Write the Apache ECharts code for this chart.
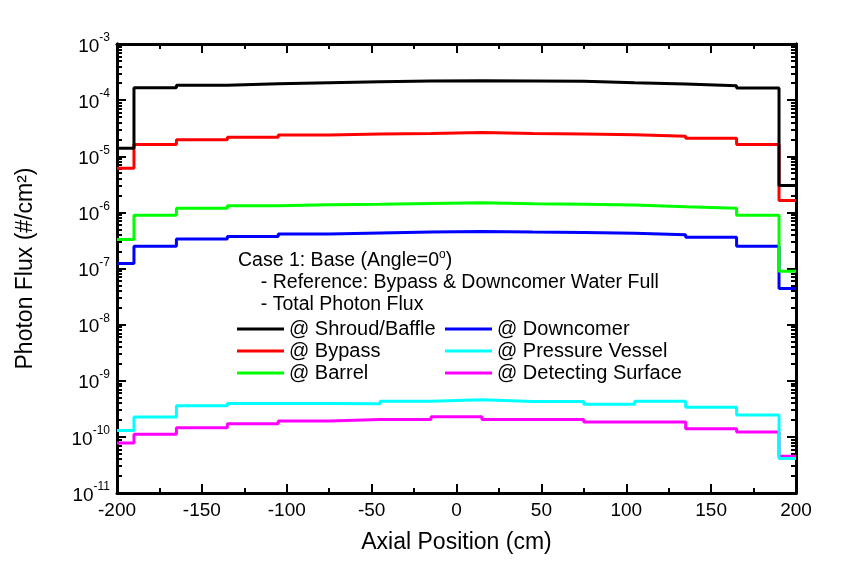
<!DOCTYPE html>
<html>
<head>
<meta charset="utf-8">
<script src="https://cdn.jsdelivr.net/npm/echarts@6/dist/echarts.min.js"></script>
<style>html,body{margin:0;padding:0;background:#fff}#chart{width:843px;height:574px}</style>
</head>
<body>
<div id="chart"></div>
<script>
const edges = [-200,-190,-165,-135,-105,-75,-45,-15,15,45,75,105,135,165,190,200];
const shroud = [1.39e-5,1.66e-4,1.85e-4,1.95e-4,2.04e-4,2.12e-4,2.2e-4,2.22e-4,2.2e-4,2.18e-4,2.04e-4,1.93e-4,1.8e-4,1.64e-4,3.0e-6];
const bypass = [6.1e-6,1.62e-5,1.97e-5,2.19e-5,2.38e-5,2.48e-5,2.55e-5,2.65e-5,2.55e-5,2.5e-5,2.42e-5,2.28e-5,2.1e-5,1.62e-5,1.63e-6];
const barrel = [3.3e-7,8.9e-7,1.19e-6,1.31e-6,1.37e-6,1.4e-6,1.44e-6,1.48e-6,1.43e-6,1.39e-6,1.35e-6,1.26e-6,1.18e-6,8.9e-7,8.9e-8];
const downcomer = [1.23e-7,2.48e-7,3.34e-7,3.73e-7,4.1e-7,4.27e-7,4.45e-7,4.57e-7,4.45e-7,4.4e-7,4.25e-7,4.0e-7,3.6e-7,2.48e-7,4.4e-8];
const vessel = [1.3e-10,2.25e-10,3.6e-10,3.95e-10,3.95e-10,3.9e-10,4.3e-10,4.6e-10,4.25e-10,4.25e-10,3.8e-10,4.3e-10,3.36e-10,2.45e-10,4.1e-11];
const surface = [7.8e-11,1.11e-10,1.46e-10,1.72e-10,1.91e-10,2.05e-10,2.05e-10,2.29e-10,2.03e-10,2.03e-10,1.84e-10,1.84e-10,1.4e-10,1.22e-10,4.5e-11];
const seriesNames = ['@ Shroud/Baffle','@ Bypass','@ Barrel','@ Downcomer','@ Pressure Vessel','@ Detecting Surface'];
const seriesColors = ['#000000','#ff0000','#00ff00','#0000ff','#00ffff','#ff00ff'];
const yExponents = [-11,-10,-9,-8,-7,-6,-5,-4,-3];
const xMin = -200, xMax = 200, xStep = 50;

const FONT = 'Liberation Sans, Arial, sans-serif';
const majorVals = yExponents.map(e => Math.pow(10, e));
const minorVals = [];
yExponents.slice(0, -1).forEach(e => { for (let k = 2; k <= 9; k++) minorVals.push(k * Math.pow(10, e)); });

function stepData(vals) {
  return edges.map((e, i) => [e, vals[Math.min(i, vals.length - 1)]]);
}
const allVals = [shroud, bypass, barrel, downcomer, vessel, surface];

const chart = echarts.init(document.getElementById('chart'));
const yBase = { type: 'log', logBase: 10, min: 1e-11, max: 1e-3, splitLine: { show: false },
  axisLine: { show: true, onZero: false, lineStyle: { color: '#000', width: 3 } } };
const xBase = { type: 'value', min: xMin, max: xMax, interval: xStep, splitLine: { show: false },
  axisLine: { show: true, onZero: false, lineStyle: { color: '#000', width: 3 } },
  axisTick: { show: true, inside: true, length: 9, lineStyle: { color: '#000', width: 2 } },
  minorTick: { show: true, splitNumber: 2, length: 5, lineStyle: { color: '#000', width: 2 } } };

chart.setOption({
  animation: false,
  backgroundColor: '#fff',
  grid: { left: 117, right: 47, top: 44, bottom: 81, containLabel: false },
  xAxis: [
    Object.assign({}, xBase, { position: 'bottom',
      name: 'Axial Position (cm)', nameLocation: 'middle', nameGap: 38,
      nameTextStyle: { fontSize: 23, fontFamily: FONT, color: '#000' },
      axisLabel: { show: true, margin: 8, fontSize: 19, fontFamily: FONT, color: '#000' } }),
    Object.assign({}, xBase, { position: 'top', axisLabel: { show: false } })
  ],
  yAxis: [
    Object.assign({}, yBase, { position: 'left',
      name: 'Photon Flux (#/cm²)', nameLocation: 'middle', nameGap: 80,
      nameTextStyle: { fontSize: 23, fontFamily: FONT, color: '#000' },
      axisTick: { show: true, inside: true, length: 9, customValues: majorVals, lineStyle: { color: '#000', width: 2 } },
      axisLabel: { show: true, margin: 7, customValues: majorVals, fontFamily: FONT, color: '#000',
        formatter: v => '{b|10}{s|' + Math.round(Math.log10(v)) + '}',
        rich: { b: { fontSize: 19, lineHeight: 24, verticalAlign: 'bottom', fontFamily: FONT, color: '#000' },
                s: { fontSize: 12, lineHeight: 14, verticalAlign: 'top', fontFamily: FONT, color: '#000' } } } }),
    Object.assign({}, yBase, { position: 'left',
      axisTick: { show: true, inside: true, length: 5, customValues: minorVals, lineStyle: { color: '#000', width: 2 } },
      axisLabel: { show: false } }),
    Object.assign({}, yBase, { position: 'right',
      axisTick: { show: true, inside: true, length: 9, customValues: majorVals, lineStyle: { color: '#000', width: 2 } },
      axisLabel: { show: false } }),
    Object.assign({}, yBase, { position: 'right',
      axisTick: { show: true, inside: true, length: 5, customValues: minorVals, lineStyle: { color: '#000', width: 2 } },
      axisLabel: { show: false } })
  ],
  legend: [
    { orient: 'vertical', left: 237, top: 318, padding: 0, itemWidth: 47, itemHeight: 3, itemGap: 0, icon: 'rect',
      data: seriesNames.slice(0, 3),
      textStyle: { fontSize: 20, lineHeight: 22, fontFamily: FONT, color: '#000', padding: [0,0,0,0] } },
    { orient: 'vertical', left: 445, top: 318, padding: 0, itemWidth: 47, itemHeight: 3, itemGap: 0, icon: 'rect',
      data: seriesNames.slice(3),
      textStyle: { fontSize: 20, lineHeight: 22, fontFamily: FONT, color: '#000', padding: [0,0,0,0] } }
  ],
  graphic: [
    { type: 'text', left: 238, top: 249, style: { text: '{a|Case 1: Base (Angle=0}{s|o}{a|)}',
      rich: { a: { fontSize: 19.5, lineHeight: 22, verticalAlign: 'bottom', fontFamily: FONT, fill: '#000' },
              s: { fontSize: 12, lineHeight: 12, verticalAlign: 'top', fontFamily: FONT, fill: '#000' } } } },
    { type: 'text', left: 250, top: 273, style: { text: '  - Reference: Bypass & Downcomer Water Full', fontSize: 19.5, fontFamily: FONT, fill: '#000' } },
    { type: 'text', left: 250, top: 295, style: { text: '  - Total Photon Flux', fontSize: 19.5, fontFamily: FONT, fill: '#000' } }
  ],
  series: allVals.map((vals, i) => ({
    name: seriesNames[i], type: 'line', step: 'end', showSymbol: false, symbol: 'none',
    xAxisIndex: 0, yAxisIndex: 0, data: stepData(vals),
    lineStyle: { color: seriesColors[i], width: 3 }, itemStyle: { color: seriesColors[i] },
    clip: true, z: 2 + (5 - i)
  }))
});
</script>
</body>
</html>
